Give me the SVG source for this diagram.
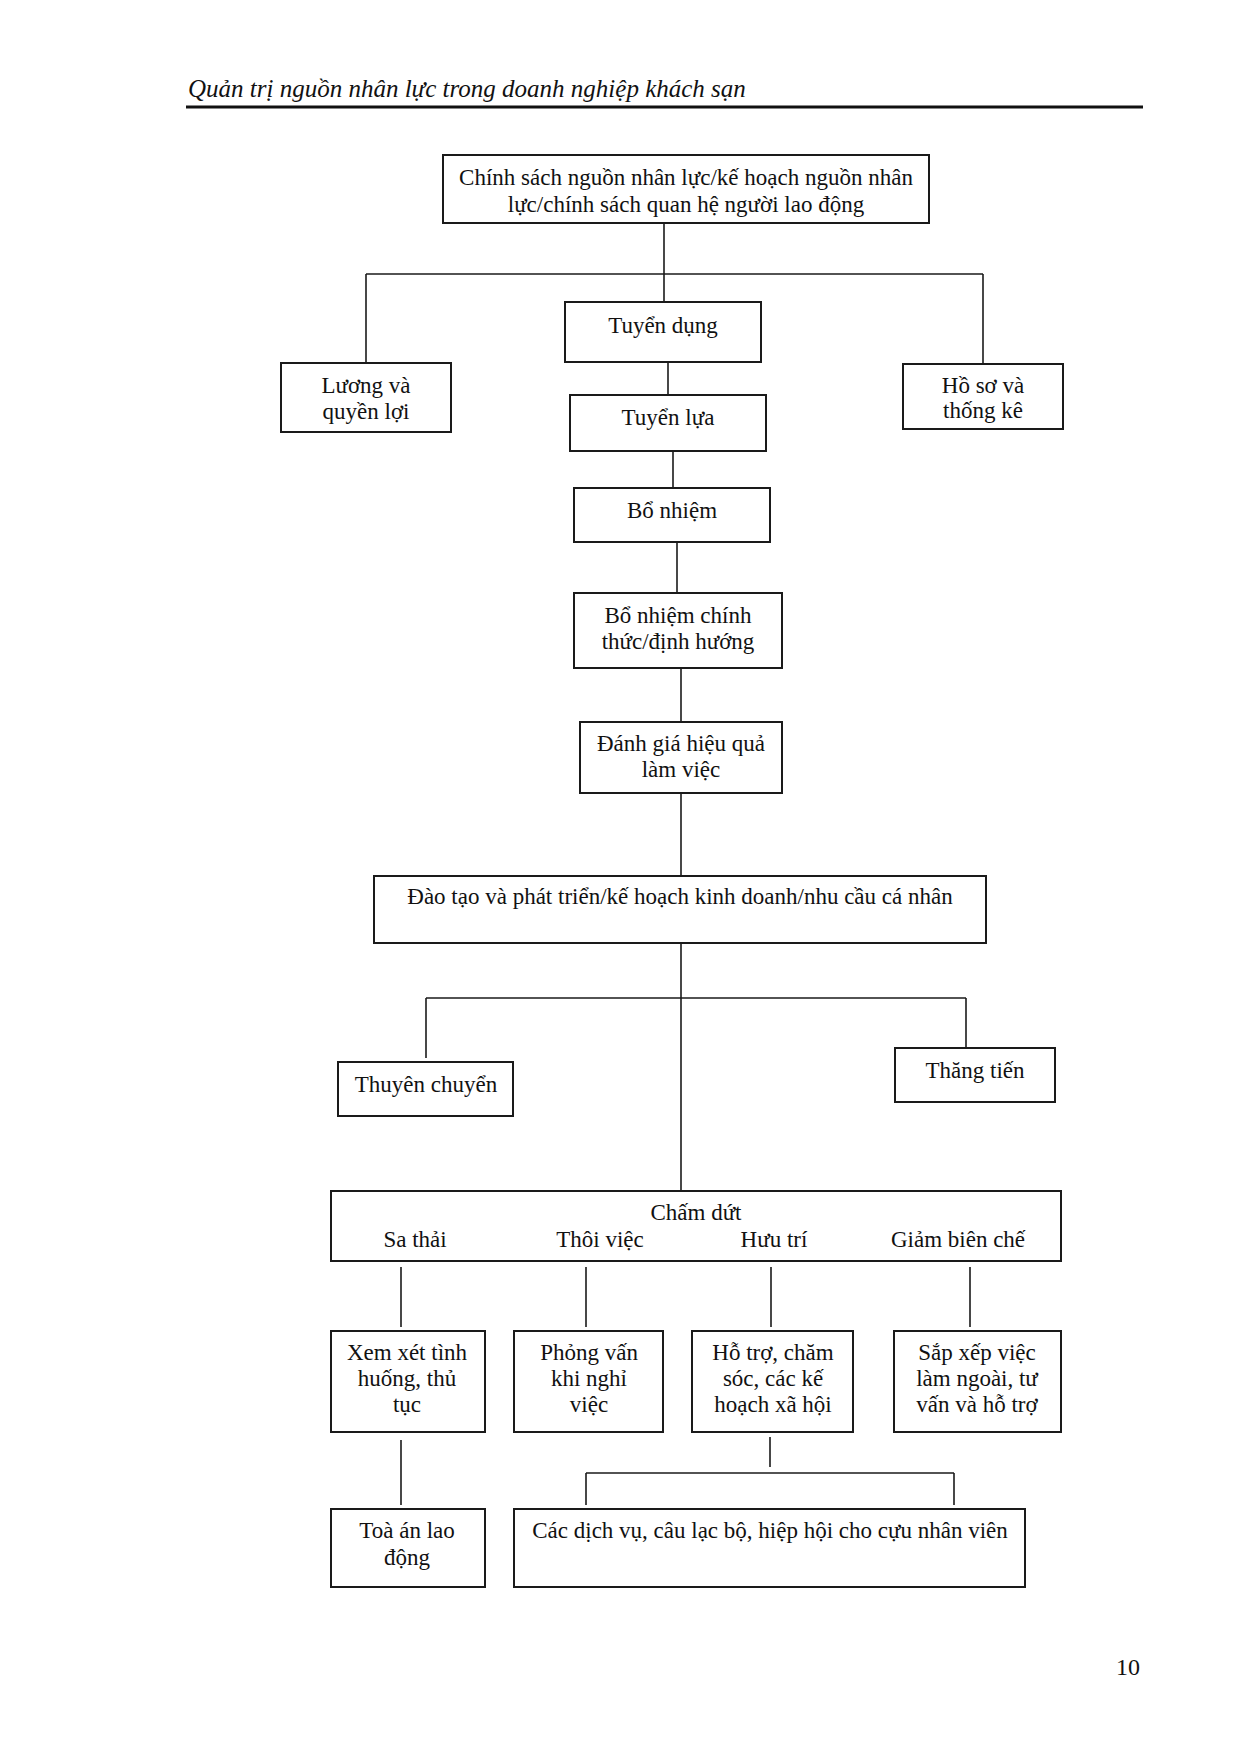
<svg xmlns="http://www.w3.org/2000/svg" width="1240" height="1753" viewBox="0 0 1240 1753">
<style>
.bg{fill:#ffffff}
.box{fill:#ffffff;stroke:#1a1a1a;stroke-width:2}
.ln{stroke:#1a1a1a;stroke-width:1.6;fill:none}
.t{font-family:"Liberation Serif","Times New Roman",serif;font-size:23px;fill:#111;text-anchor:middle}
.hd{font-family:"Liberation Serif","Times New Roman",serif;font-size:25px;font-style:italic;fill:#111}
.pg{font-family:"Liberation Serif","Times New Roman",serif;font-size:24px;fill:#111}
</style>
<rect class="bg" x="0" y="0" width="1240" height="1753"/>
<g id="header">
<text class="hd" x="188" y="97">Quản trị nguồn nhân lực trong doanh nghiệp khách sạn</text>
<line x1="186" y1="107" x2="1143" y2="107" stroke="#111" stroke-width="3"/>
</g>
<g id="connectors">
<line class="ln" x1="664" y1="223" x2="664" y2="302"/>
<line class="ln" x1="366" y1="274" x2="983" y2="274"/>
<line class="ln" x1="366" y1="274" x2="366" y2="363"/>
<line class="ln" x1="983" y1="274" x2="983" y2="364"/>
<line class="ln" x1="668" y1="362" x2="668" y2="395"/>
<line class="ln" x1="673" y1="451" x2="673" y2="488"/>
<line class="ln" x1="677" y1="542" x2="677" y2="593"/>
<line class="ln" x1="681" y1="668" x2="681" y2="722"/>
<line class="ln" x1="681" y1="793" x2="681" y2="876"/>
<line class="ln" x1="681" y1="943" x2="681" y2="1191"/>
<line class="ln" x1="426" y1="998" x2="966" y2="998"/>
<line class="ln" x1="426" y1="998" x2="426" y2="1058"/>
<line class="ln" x1="966" y1="998" x2="966" y2="1047"/>
<line class="ln" x1="401" y1="1267" x2="401" y2="1327"/>
<line class="ln" x1="586" y1="1267" x2="586" y2="1327"/>
<line class="ln" x1="771" y1="1267" x2="771" y2="1327"/>
<line class="ln" x1="970" y1="1267" x2="970" y2="1327"/>
<line class="ln" x1="401" y1="1440" x2="401" y2="1505"/>
<line class="ln" x1="770" y1="1437" x2="770" y2="1467"/>
<line class="ln" x1="586" y1="1473" x2="954" y2="1473"/>
<line class="ln" x1="586" y1="1473" x2="586" y2="1505"/>
<line class="ln" x1="954" y1="1473" x2="954" y2="1505"/>
</g>
<g id="n-chinhsach">
<rect class="box" x="443" y="155" width="486" height="68"/>
<text class="t" x="686" y="185">Chính sách nguồn nhân lực/kế hoạch nguồn nhân</text>
<text class="t" x="686" y="212">lực/chính sách quan hệ người lao động</text>
</g>
<g id="n-luong">
<rect class="box" x="281" y="363" width="170" height="69"/>
<text class="t" x="366" y="393">Lương và</text>
<text class="t" x="366" y="419">quyền lợi</text>
</g>
<g id="n-tuyendung">
<rect class="box" x="565" y="302" width="196" height="60"/>
<text class="t" x="663" y="333">Tuyển dụng</text>
</g>
<g id="n-hoso">
<rect class="box" x="903" y="364" width="160" height="65"/>
<text class="t" x="983" y="393">Hồ sơ và</text>
<text class="t" x="983" y="418">thống kê</text>
</g>
<g id="n-tuyenlua">
<rect class="box" x="570" y="395" width="196" height="56"/>
<text class="t" x="668" y="425">Tuyển lựa</text>
</g>
<g id="n-bonhiem">
<rect class="box" x="574" y="488" width="196" height="54"/>
<text class="t" x="672" y="518">Bổ nhiệm</text>
</g>
<g id="n-bonhiemchinhthuc">
<rect class="box" x="574" y="593" width="208" height="75"/>
<text class="t" x="678" y="623">Bổ nhiệm chính</text>
<text class="t" x="678" y="649">thức/định hướng</text>
</g>
<g id="n-danhgia">
<rect class="box" x="580" y="722" width="202" height="71"/>
<text class="t" x="681" y="751">Đánh giá hiệu quả</text>
<text class="t" x="681" y="777">làm việc</text>
</g>
<g id="n-daotao">
<rect class="box" x="374" y="876" width="612" height="67"/>
<text class="t" x="680" y="904">Đào tạo và phát triển/kế hoạch kinh doanh/nhu cầu cá nhân</text>
</g>
<g id="n-thuyenchuyen">
<rect class="box" x="338" y="1062" width="175" height="54"/>
<text class="t" x="426" y="1092">Thuyên chuyển</text>
</g>
<g id="n-thangtien">
<rect class="box" x="895" y="1048" width="160" height="54"/>
<text class="t" x="975" y="1078">Thăng tiến</text>
</g>
<g id="n-chamdut">
<rect class="box" x="331" y="1191" width="730" height="70"/>
<text class="t" x="696" y="1220">Chấm dứt</text>
<text class="t" x="415" y="1247">Sa thải</text>
<text class="t" x="600" y="1247">Thôi việc</text>
<text class="t" x="774" y="1247">Hưu trí</text>
<text class="t" x="958" y="1247">Giảm biên chế</text>
</g>
<g id="n-xemxet">
<rect class="box" x="331" y="1331" width="154" height="101"/>
<text class="t" x="407" y="1360">Xem xét tình</text>
<text class="t" x="407" y="1386">huống, thủ</text>
<text class="t" x="407" y="1412">tục</text>
</g>
<g id="n-phongvan">
<rect class="box" x="514" y="1331" width="149" height="101"/>
<text class="t" x="589" y="1360">Phỏng vấn</text>
<text class="t" x="589" y="1386">khi nghỉ</text>
<text class="t" x="589" y="1412">việc</text>
</g>
<g id="n-hotro">
<rect class="box" x="692" y="1331" width="161" height="101"/>
<text class="t" x="773" y="1360">Hỗ trợ, chăm</text>
<text class="t" x="773" y="1386">sóc, các kế</text>
<text class="t" x="773" y="1412">hoạch xã hội</text>
</g>
<g id="n-sapxep">
<rect class="box" x="894" y="1331" width="167" height="101"/>
<text class="t" x="977" y="1360">Sắp xếp việc</text>
<text class="t" x="977" y="1386">làm ngoài, tư</text>
<text class="t" x="977" y="1412">vấn và hỗ trợ</text>
</g>
<g id="n-toaan">
<rect class="box" x="331" y="1509" width="154" height="78"/>
<text class="t" x="407" y="1538">Toà án lao</text>
<text class="t" x="407" y="1565">động</text>
</g>
<g id="n-dichvu">
<rect class="box" x="514" y="1509" width="511" height="78"/>
<text class="t" x="770" y="1538">Các dịch vụ, câu lạc bộ, hiệp hội cho cựu nhân viên</text>
</g>
<g id="pagenum">
<text class="pg" x="1116" y="1675">10</text>
</g>
</svg>
